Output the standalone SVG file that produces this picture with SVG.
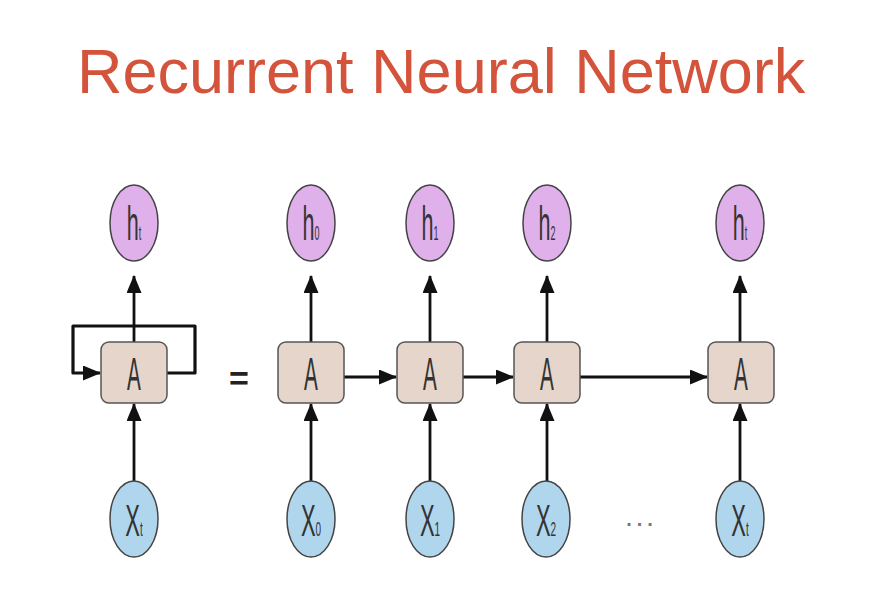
<svg xmlns="http://www.w3.org/2000/svg" width="872" height="595" viewBox="0 0 872 595">
<style>
.title{font-family:"Liberation Sans",Arial,sans-serif;font-size:63px;fill:#d4533b}
.lbl{font-family:"Liberation Sans",Arial,sans-serif;fill:#333;text-anchor:middle}
.h{fill:#dfb0ea;stroke:#444;stroke-width:1.5}
.x{fill:#b0d6ee;stroke:#444;stroke-width:1.5}
.box{fill:#e6d5ca;stroke:#555;stroke-width:1.5}
.ln{fill:none;stroke:#111;stroke-width:2.8}
.loop{fill:none;stroke:#111;stroke-width:3.2;stroke-linejoin:round}
</style>
<defs>
<marker id="ah" viewBox="0 0 18 15" refX="17" refY="7.5" markerWidth="18" markerHeight="15" markerUnits="userSpaceOnUse" orient="auto">
<path d="M0,0 L18,7.5 L0,15 z" fill="#111"/>
</marker>
</defs>
<rect width="872" height="595" fill="#fff"/>
<text class="title" x="77" y="93">Recurrent Neural Network</text>

<g id="connectors">
<path class="loop" d="M167,373 H195 V326 H73 V373 H100" marker-end="url(#ah)"/>
<line class="ln" x1="134" y1="342" x2="134" y2="276" marker-end="url(#ah)"/>
<line class="ln" x1="134" y1="482" x2="134" y2="404" marker-end="url(#ah)"/>
<line class="ln" x1="311" y1="342" x2="311" y2="276" marker-end="url(#ah)"/>
<line class="ln" x1="311" y1="482" x2="311" y2="404" marker-end="url(#ah)"/>
<line class="ln" x1="430" y1="342" x2="430" y2="276" marker-end="url(#ah)"/>
<line class="ln" x1="430" y1="482" x2="430" y2="404" marker-end="url(#ah)"/>
<line class="ln" x1="547" y1="342" x2="547" y2="276" marker-end="url(#ah)"/>
<line class="ln" x1="547" y1="482" x2="547" y2="404" marker-end="url(#ah)"/>
<line class="ln" x1="740" y1="342" x2="740" y2="276" marker-end="url(#ah)"/>
<line class="ln" x1="740" y1="482" x2="740" y2="404" marker-end="url(#ah)"/>
<line class="ln" x1="344" y1="377" x2="396" y2="377" marker-end="url(#ah)"/>
<line class="ln" x1="463" y1="377" x2="513" y2="377" marker-end="url(#ah)"/>
<line class="ln" x1="580" y1="377" x2="707" y2="377" marker-end="url(#ah)"/>
</g>

<text class="lbl" x="239" y="390" font-size="34" font-weight="bold" style="fill:#222">=</text>
<text class="lbl" x="642" y="526" font-size="20" font-weight="bold" style="fill:#777;letter-spacing:5px">...</text>

<g id="ht_left"><ellipse class="h" cx="134" cy="223" rx="24" ry="38"/><text class="lbl" font-size="48" transform="translate(134,240) scale(0.45,1)">h<tspan font-size="20">t</tspan></text></g>
<g id="A_left"><rect class="box" x="101" y="342" width="66" height="61" rx="8"/><text class="lbl" font-size="46" transform="translate(134,390) scale(0.45,1)">A</text></g>
<g id="xt_left"><ellipse class="x" cx="134" cy="519" rx="24" ry="38"/><text class="lbl" font-size="44" transform="translate(134,536) scale(0.5,1)">X<tspan font-size="20">t</tspan></text></g>

<g id="h0"><ellipse class="h" cx="311" cy="223" rx="24" ry="38"/><text class="lbl" font-size="48" transform="translate(311,240) scale(0.45,1)">h<tspan font-size="20">0</tspan></text></g>
<g id="A0"><rect class="box" x="278" y="342" width="66" height="61" rx="8"/><text class="lbl" font-size="46" transform="translate(311,390) scale(0.45,1)">A</text></g>
<g id="x0"><ellipse class="x" cx="311" cy="519" rx="24" ry="38"/><text class="lbl" font-size="44" transform="translate(311,536) scale(0.5,1)">X<tspan font-size="20">0</tspan></text></g>

<g id="h1"><ellipse class="h" cx="430" cy="223" rx="24" ry="38"/><text class="lbl" font-size="48" transform="translate(430,240) scale(0.45,1)">h<tspan font-size="20">1</tspan></text></g>
<g id="A1"><rect class="box" x="397" y="342" width="66" height="61" rx="8"/><text class="lbl" font-size="46" transform="translate(430,390) scale(0.45,1)">A</text></g>
<g id="x1"><ellipse class="x" cx="430" cy="519" rx="24" ry="38"/><text class="lbl" font-size="44" transform="translate(430,536) scale(0.5,1)">X<tspan font-size="20">1</tspan></text></g>

<g id="h2"><ellipse class="h" cx="547" cy="223" rx="24" ry="38"/><text class="lbl" font-size="48" transform="translate(547,240) scale(0.45,1)">h<tspan font-size="20">2</tspan></text></g>
<g id="A2"><rect class="box" x="514" y="342" width="66" height="61" rx="8"/><text class="lbl" font-size="46" transform="translate(547,390) scale(0.45,1)">A</text></g>
<g id="x2"><ellipse class="x" cx="546" cy="519" rx="24" ry="38"/><text class="lbl" font-size="44" transform="translate(546,536) scale(0.5,1)">X<tspan font-size="20">2</tspan></text></g>

<g id="ht"><ellipse class="h" cx="740" cy="223" rx="24" ry="38"/><text class="lbl" font-size="48" transform="translate(740,240) scale(0.45,1)">h<tspan font-size="20">t</tspan></text></g>
<g id="At"><rect class="box" x="708" y="342" width="66" height="61" rx="8"/><text class="lbl" font-size="46" transform="translate(741,390) scale(0.45,1)">A</text></g>
<g id="xt"><ellipse class="x" cx="740" cy="519" rx="24" ry="38"/><text class="lbl" font-size="44" transform="translate(740,536) scale(0.5,1)">X<tspan font-size="20">t</tspan></text></g>
</svg>
